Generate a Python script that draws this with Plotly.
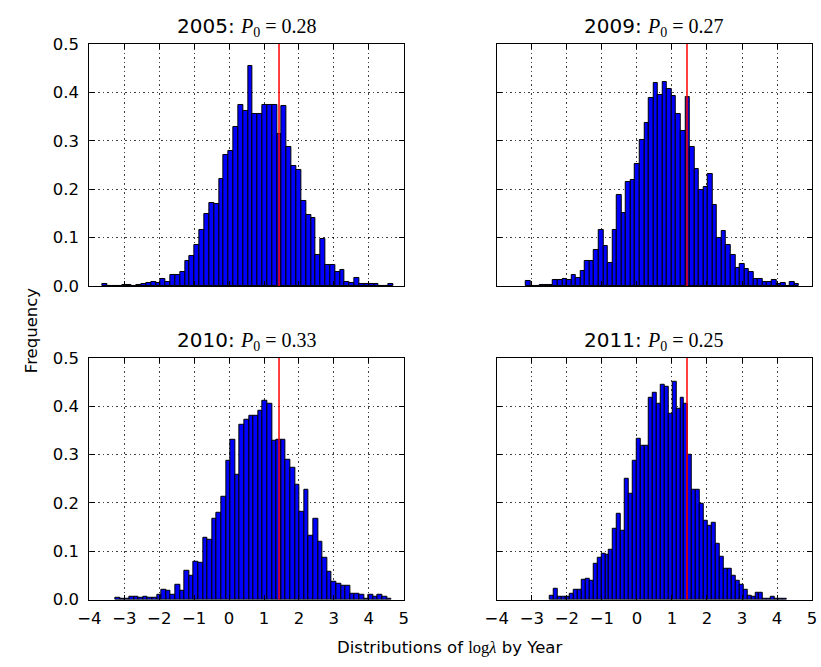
import plotly.graph_objects as go

# ---------------- data ----------------
years = ["2005", "2009", "2010", "2011"]
p0_labels = ["0.28", "0.27", "0.33", "0.25"]

# histogram bin ranges (first edge, last edge), 60 bins each
range_2005 = (-3.62, 4.70)
range_2009 = (-3.17, 4.63)
range_2010 = (-3.25, 4.65)
range_2011 = (-2.48, 4.28)

h2005 = [0.003, 0, 0, 0, 0.0015, 0.0015, 0, 0.0015, 0.003, 0.006,
         0.009, 0.006, 0.014, 0.009, 0.023, 0.022, 0.029, 0.052, 0.062, 0.084,
         0.115, 0.148, 0.172, 0.170, 0.221, 0.270, 0.279, 0.328, 0.374, 0.362,
         0.454, 0.356, 0.356, 0.373, 0.373, 0.373, 0.315, 0.372, 0.287, 0.247,
         0.240, 0.175, 0.146, 0.140, 0.064, 0.096, 0.044, 0.044, 0.029, 0.032,
         0.009, 0.005, 0.016, 0.003, 0.003, 0.003, 0.003, 0, 0, 0.003]

h2009 = [0.011, 0, 0, 0.002, 0.002, 0.002, 0.012, 0.012, 0.014, 0.012,
         0.023, 0.016, 0.031, 0.051, 0.051, 0.074, 0.115, 0.083, 0.048, 0.115,
         0.187, 0.150, 0.215, 0.219, 0.252, 0.301, 0.336, 0.388, 0.420, 0.395,
         0.421, 0.408, 0.393, 0.356, 0.321, 0.390, 0.287, 0.242, 0.199, 0.204,
         0.232, 0.168, 0.100, 0.113, 0.085, 0.064, 0.036, 0.046, 0.034, 0.029,
         0.014, 0.014, 0.009, 0.009, 0.012, 0.003, 0.006, 0, 0.009, 0.003]

h2010 = [0.004, 0.001, 0.001, 0.007, 0.007, 0.003, 0.007, 0.003, 0.003, 0.011,
         0.021, 0.019, 0.011, 0.031, 0.019, 0.060, 0.050, 0.079, 0.077, 0.128,
         0.123, 0.168, 0.180, 0.213, 0.287, 0.331, 0.259, 0.361, 0.371, 0.381,
         0.381, 0.390, 0.411, 0.404, 0.329, 0.331, 0.331, 0.290, 0.273, 0.237,
         0.181, 0.227, 0.133, 0.167, 0.119, 0.086, 0.058, 0.038, 0.032, 0.029,
         0.029, 0.012, 0.012, 0.010, 0.002, 0.010, 0.007, 0.010, 0.005, 0.002]

h2011 = [0.009, 0.022, 0.007, 0.007, 0.007, 0.013, 0.021, 0.021, 0.041, 0.044,
         0.039, 0.074, 0.086, 0.094, 0.092, 0.103, 0.146, 0.178, 0.143, 0.249,
         0.218, 0.287, 0.332, 0.319, 0.319, 0.417, 0.428, 0.405, 0.445, 0.441,
         0.385, 0.450, 0.394, 0.417, 0.405, 0.299, 0.227, 0.227, 0.198, 0.163,
         0.153, 0.160, 0.115, 0.089, 0.064, 0.064, 0.050, 0.039, 0.030, 0.021,
         0.009, 0.005, 0.014, 0.014, 0.002, 0.002, 0.007, 0.002, 0.002, 0.002]

red_value = 1.43  # vertical reference line (log lambda)

x_ticks = [-4, -3, -2, -1, 0, 1, 2, 3, 4, 5]
y_ticks = [0.0, 0.1, 0.2, 0.3, 0.4, 0.5]

# ---------------- layout geometry ----------------
W, H = 821, 667
col_x = [(79, 400), (495, 817)]
row_y = [(36, 285), (359, 608)]

heights = [h2005, h2009, h2010, h2011]
ranges = [range_2005, range_2009, range_2010, range_2011]

fig = go.Figure()
axis_font = dict(family="DejaVu Sans", size=16.5, color="black")
common = dict(
    showline=True, linecolor="black", linewidth=1.3, mirror="allticks",
    ticks="inside", ticklen=5, tickcolor="black", tickwidth=1,
    showgrid=True, gridcolor="rgba(0,0,0,0.75)", gridwidth=0.7, griddash="1.5px,3px",
    zeroline=False, tickfont=axis_font,
)

annotations = []
for i in range(4):
    r, c = divmod(i, 2)
    ax = "" if i == 0 else str(i + 1)
    lo, hi = ranges[i]
    h = heights[i]
    n = len(h)
    w = (hi - lo) / n
    centers = [lo + w * (k + 0.5) for k in range(n)]
    fig.add_trace(go.Bar(
        x=centers, y=h, width=w,
        marker=dict(color="#0000ff", line=dict(color="black", width=1)),
        xaxis="x" + ax, yaxis="y" + ax, showlegend=False,
    ))
    fig.add_trace(go.Scatter(
        x=[red_value, red_value], y=[y_ticks[0], y_ticks[-1]], mode="lines",
        line=dict(color="red", width=1.5),
        xaxis="x" + ax, yaxis="y" + ax, showlegend=False,
    ))
    x0, x1 = col_x[c]
    y0, y1 = row_y[r]
    xd = [x0 / W, x1 / W]
    yd = [1 - y1 / H, 1 - y0 / H]
    fig.layout["xaxis" + ax] = dict(
        common, domain=xd, range=[-4, 5], tickvals=x_ticks,
        showticklabels=(r == 1), anchor="y" + ax, ticklabelstandoff=3,
    )
    fig.layout["yaxis" + ax] = dict(
        common, domain=yd, range=[0, 0.5], tickvals=y_ticks, tickformat=".1f",
        showticklabels=(c == 0), anchor="x" + ax, ticklabelstandoff=6,
    )
    annotations.append(dict(
        xref="paper", yref="paper", x=(x0 + x1) / 2 / W, y=1 - (y0 - 17) / H,
        xanchor="center", yanchor="middle", showarrow=False,
        text=(years[i] + ": <span style='font-family:Liberation Serif'><i>P</i>"
              "<sub>0</sub> = " + p0_labels[i] + "</span>"),
        font=dict(family="DejaVu Sans", size=20, color="black"),
    ))

annotations.append(dict(
    xref="paper", yref="paper", x=447 / W, y=1 - 657 / H,
    xanchor="center", yanchor="middle", showarrow=False,
    text="Distributions of <span style='font-family:Liberation Serif'>log<i>λ</i></span> by Year",
    font=dict(family="DejaVu Sans", size=16.5, color="black"),
))
annotations.append(dict(
    xref="paper", yref="paper", x=20 / W, y=1 - 331 / H,
    xanchor="center", yanchor="middle", showarrow=False, textangle=-90,
    text="Frequency", font=dict(family="DejaVu Sans", size=16.5, color="black"),
))

fig.update_layout(
    width=W, height=H, margin=dict(l=0, r=0, t=0, b=0),
    paper_bgcolor="white", plot_bgcolor="white",
    annotations=annotations, bargap=0,
)

fig.write_html("out.html", config={"displayModeBar": False},
               post_script="document.body.style.margin='0px';")
